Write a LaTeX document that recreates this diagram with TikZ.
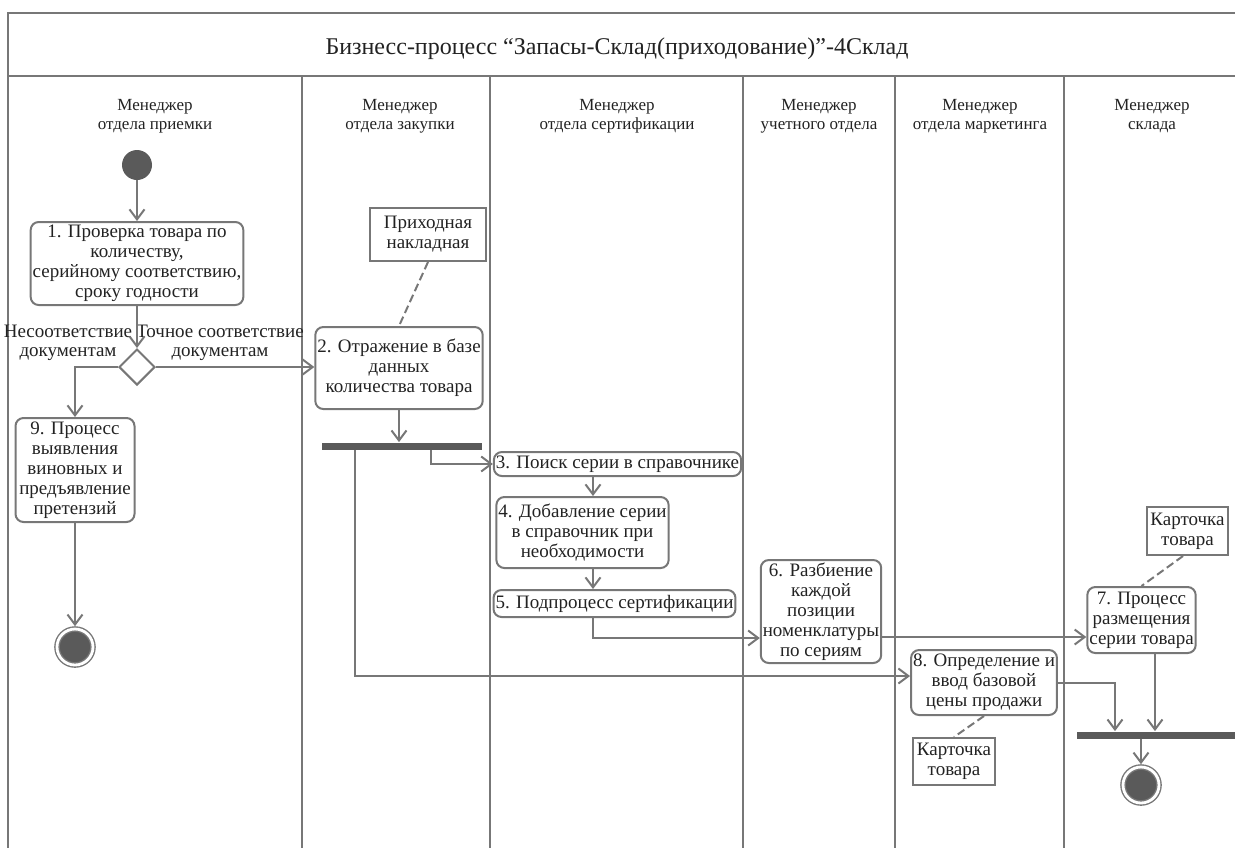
\documentclass[tikz,border=0pt]{standalone}
\usepackage{fontspec}
\setmainfont{Liberation Serif}
\usetikzlibrary{shapes.geometric,arrows.meta}
\definecolor{linec}{HTML}{777777}
\definecolor{dotc}{HTML}{5A5A5A}
\definecolor{txtc}{HTML}{222222}
\tikzset{
  act/.style={draw=linec, line width=1pt, rounded corners=4pt, align=center, inner sep=1pt, text=txtc, font=\fontsize{9.5}{10}\selectfont},
  doc/.style={draw=linec, line width=1pt, align=center, inner sep=1pt, text=txtc, font=\fontsize{9.5}{10}\selectfont},
  lane/.style={align=center, text=txtc, font=\fontsize{8.5}{9.5}\selectfont},
  guard/.style={align=center, text=txtc, inner sep=0pt, font=\fontsize{9.5}{9.5}\selectfont},
  flow/.style={draw=linec, line width=1pt, -{Straight Barb[length=5pt,width=7.5pt]}},
  link/.style={draw=linec, line width=1pt, dash pattern=on 4pt off 2pt},
  syncbar/.style={fill=dotc, inner sep=0pt, minimum height=3.5pt},
  initst/.style={circle, fill=dotc, inner sep=0pt, minimum size=15pt},
  finalst/.style={circle, draw=linec, line width=0.7pt, double=white, double distance=1.4pt, fill=dotc, inner sep=0pt, outer sep=1.4pt, minimum size=18pt},
  choice/.style={diamond, draw=linec, line width=1pt, fill=white, inner sep=0pt, minimum size=18pt},
  swim/.style={draw=linec, line width=1.3pt}
}
\begin{document}
\begin{tikzpicture}[x=0.5pt, y=-0.5pt]
  \useasboundingbox (0,0) rectangle (1235,848);
  \draw [swim] (1235,13) -- (8,13) -- (8,848);
  \draw [swim] (8,76) -- (1235,76);
  \foreach \x in {302,490,743,895,1064}
    \draw [swim] (\x,76) -- (\x,848);
  \node [text=txtc, font=\fontsize{12}{14}\selectfont] (title) at (617,49) {Бизнесс-процесс “Запасы-Склад(приходование)”-4Склад};

  \node [lane] (h1) at (155,116) {Менеджер\\отдела приемки};
  \node [lane] (h2) at (400,116) {Менеджер\\отдела закупки};
  \node [lane] (h3) at (617,116) {Менеджер\\отдела сертификации};
  \node [lane] (h4) at (819,116) {Менеджер\\учетного отдела};
  \node [lane] (h5) at (980,116) {Менеджер\\отдела маркетинга};
  \node [lane] (h6) at (1152,116) {Менеджер\\склада};

  \node [initst] (s) at (137,165) {};
  \node [act, minimum width=105.5pt, minimum height=41.5pt] (a1) at (137,263.5) {1. Проверка товара по\\количеству,\\серийному соответствию,\\сроку годности};
  \node [choice] (d) at (137,367) {};
  \node [guard] (g1) at (68,343) {Несоответствие\\документам};
  \node [guard] (g2) at (220,343) {Точное соответствие\\документам};
  \node [act, minimum width=59.5pt, minimum height=52pt] (a9) at (75,470) {9. Процесс\\выявления\\виновных и\\предъявление\\претензий};
  \node [finalst] (e1) at (75,647) {};

  \node [doc, minimum width=58pt, minimum height=26.5pt] (n1) at (428,234.5) {Приходная\\накладная};
  \node [act, minimum width=81pt, minimum height=41pt] (a2) at (399,368) {2. Отражение в базе\\данных\\количества товара};
  \node [syncbar, minimum width=80pt] (f1) at (402,446) {};

  \node [act, minimum width=120.5pt, minimum height=12pt] (a3) at (617.5,464) {3. Поиск серии в справочнике};
  \node [act, minimum width=85.5pt, minimum height=35.5pt] (a4) at (582.5,532.5) {4. Добавление серии\\в справочник при\\необходимости};
  \node [act, minimum width=117.5pt, minimum height=13.5pt] (a5) at (614.5,603.5) {5. Подпроцесс сертификации};

  \node [act, minimum width=59pt, minimum height=51.5pt] (a6) at (821,611.5) {6. Разбиение\\каждой\\позиции\\номенклатуры\\по сериям};

  \node [act, minimum width=71pt, minimum height=32.5pt] (a8) at (984,682.5) {8. Определение и\\ввод базовой\\цены продажи};
  \node [doc, minimum width=41pt, minimum height=23.5pt] (n3) at (954,761.5) {Карточка\\товара};

  \node [doc, minimum width=40.5pt, minimum height=24pt] (n2) at (1187.5,531) {Карточка\\товара};
  \node [act, minimum width=53.5pt, minimum height=33pt] (a7) at (1141.5,620) {7. Процесс\\размещения\\серии товара};
  \node [syncbar, minimum width=79pt] (f2) at (1156,735) {};
  \node [finalst] (e2) at (1141,785) {};

  \draw [flow] (s) -- (a1);
  \draw [flow] (a1) -- (d);
  \draw [flow] (d.west) -| (a9.north);
  \draw [flow] (a9) -- (e1);
  \draw [flow] (d.east) -- (a2.west |- d.east);
  \draw [link] (n1.south) -- (a2.north);
  \draw [flow] (a2) -- (a2 |- f1.north);
  \draw [flow] (f1.south -| 431,0) |- (a3.west);
  \draw [flow] (f1.south -| 355,0) |- (a8.west |- 0,676);
  \draw [flow] (a3.south -| 593,0) -- (a4.north -| 593,0);
  \draw [flow] (a4.south -| 593,0) -- (a5.north -| 593,0);
  \draw [flow] (a5.south -| 593,0) |- (a6.west |- 0,638);
  \draw [flow] (a6.east |- 0,637) -- (a7.west |- 0,637);
  \draw [link] (n2.south -| 1183,0) -- (a7.north);
  \draw [link] (a8.south) -- (n3.north);
  \draw [flow] (a8.east |- 0,683) -| (f2.north -| 1115,0);
  \draw [flow] (a7.south -| 1155,0) -- (f2.north -| 1155,0);
  \draw [flow] (e2 |- f2.south) -- (e2);
\end{tikzpicture}
\end{document}
